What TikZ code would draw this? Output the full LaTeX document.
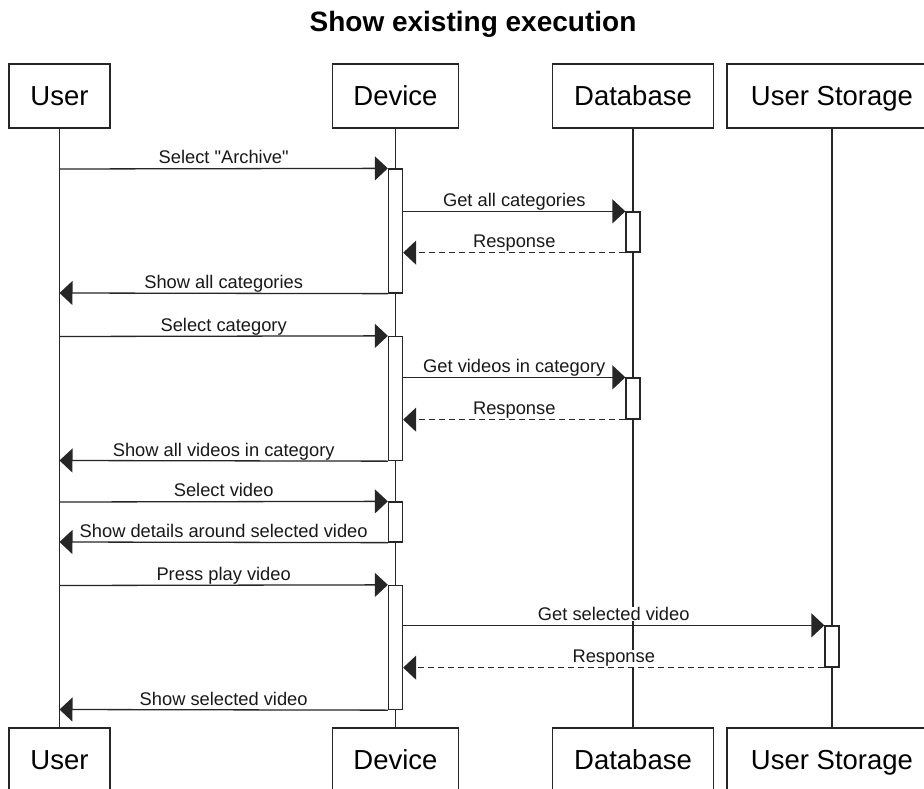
\documentclass[tikz,border=0pt]{standalone}
\usepackage{fontspec}
\setmainfont{Liberation Sans}
\usetikzlibrary{arrows.meta}
\tikzset{
  actor/.style={draw=black!85, line width=1.3pt, fill=white, minimum width=#1, minimum height=64pt, inner sep=0pt, text depth=0pt, font=\fontsize{27.5}{30}\selectfont},
  life/.style={draw=black!85, line width=1.3pt},
  actbar/.style={draw=black!85, line width=1.3pt, fill=white, minimum width=14pt, inner sep=0pt, minimum height=#1},
  msg/.style={draw=black!85, line width=1.3pt, -{Triangle[length=13pt,width=24pt]}},
  reply/.style={msg, dash pattern=on 6pt off 4pt},
  lbl/.style={behind path, fill=white, inner sep=0.6pt, anchor=base, yshift=4.8pt, font=\fontsize{18.3}{20}\selectfont, text=black!90},
}
\begin{document}
\begin{tikzpicture}[x=1pt, y=-1pt]
\clip (0,0) rectangle (924,789);
\fill[white] (0,0) rectangle (924,789);

\node[font=\bfseries\fontsize{28}{30}\selectfont, anchor=base] (title) at (473,32) {Show existing execution};

% actors top
\node[actor=101pt] (uT) at (59.5,96) {User};
\node[actor=126pt] (dT) at (395.5,96) {Device};
\node[actor=161pt] (bT) at (633,96) {Database};
\node[actor=210pt] (sT) at (832,96) {User Storage};
% actors bottom
\node[actor=101pt] (uB) at (59.5,760) {User};
\node[actor=126pt] (dB) at (395.5,760) {Device};
\node[actor=161pt] (bB) at (633,760) {Database};
\node[actor=210pt] (sB) at (832,760) {User Storage};

% lifelines
\draw[life] (uT.south) -- (uB.north);
\draw[life] (dT.south) -- (dB.north);
\draw[life] (bT.south) -- (bB.north);
\draw[life] (sT.south) -- (sB.north);

% activation bars
\node[actbar=124pt] (b1) at (395.5,231) {};
\node[actbar=40pt]  (b2) at (633,232) {};
\node[actbar=124pt] (b3) at (395.5,398.5) {};
\node[actbar=41pt]  (b4) at (633,398.5) {};
\node[actbar=40pt]  (b5) at (395.5,522) {};
\node[actbar=124pt] (b6) at (395.5,647.5) {};
\node[actbar=41pt]  (b7) at (832,646.5) {};

% user-side coordinates
\coordinate (u1) at (59.5,169);
\coordinate (u2) at (59.5,293);
\coordinate (u3) at (59.5,336.5);
\coordinate (u4) at (59.5,460.5);
\coordinate (u5) at (59.5,502);
\coordinate (u6) at (59.5,542);
\coordinate (u7) at (59.5,585.5);
\coordinate (u8) at (59.5,709.5);

% messages
\draw[msg] (u1) -- node[lbl] (m1) {Select \textquotedbl Archive\textquotedbl} (b1.north west);
\draw[msg] (b1.east |- b2.north) -- node[lbl] (m2) {Get all categories} (b2.north west);
\draw[reply] (b2.south west) -- node[lbl] (m3) {Response} (b1.east |- b2.south);
\draw[msg] (b1.south west) -- node[lbl] (m4) {Show all categories} (u2);
\draw[msg] (u3) -- node[lbl] (m5) {Select category} (b3.north west);
\draw[msg] (b3.east |- b4.north) -- node[lbl] (m6) {Get videos in category} (b4.north west);
\draw[reply] (b4.south west) -- node[lbl] (m7) {Response} (b3.east |- b4.south);
\draw[msg] (b3.south west) -- node[lbl] (m8) {Show all videos in category} (u4);
\draw[msg] (u5) -- node[lbl] (m9) {Select video} (b5.north west);
\draw[msg] (b5.south west) -- node[lbl] (m10) {Show details around selected video} (u6);
\draw[msg] (u7) -- node[lbl] (m11) {Press play video} (b6.north west);
\draw[msg] (b6.east |- b7.north) -- node[lbl] (m12) {Get selected video} (b7.north west);
\draw[reply] (b7.south west) -- node[lbl] (m13) {Response} (b6.east |- b7.south);
\draw[msg] (b6.south west) -- node[lbl] (m14) {Show selected video} (u8);
\end{tikzpicture}
\end{document}
